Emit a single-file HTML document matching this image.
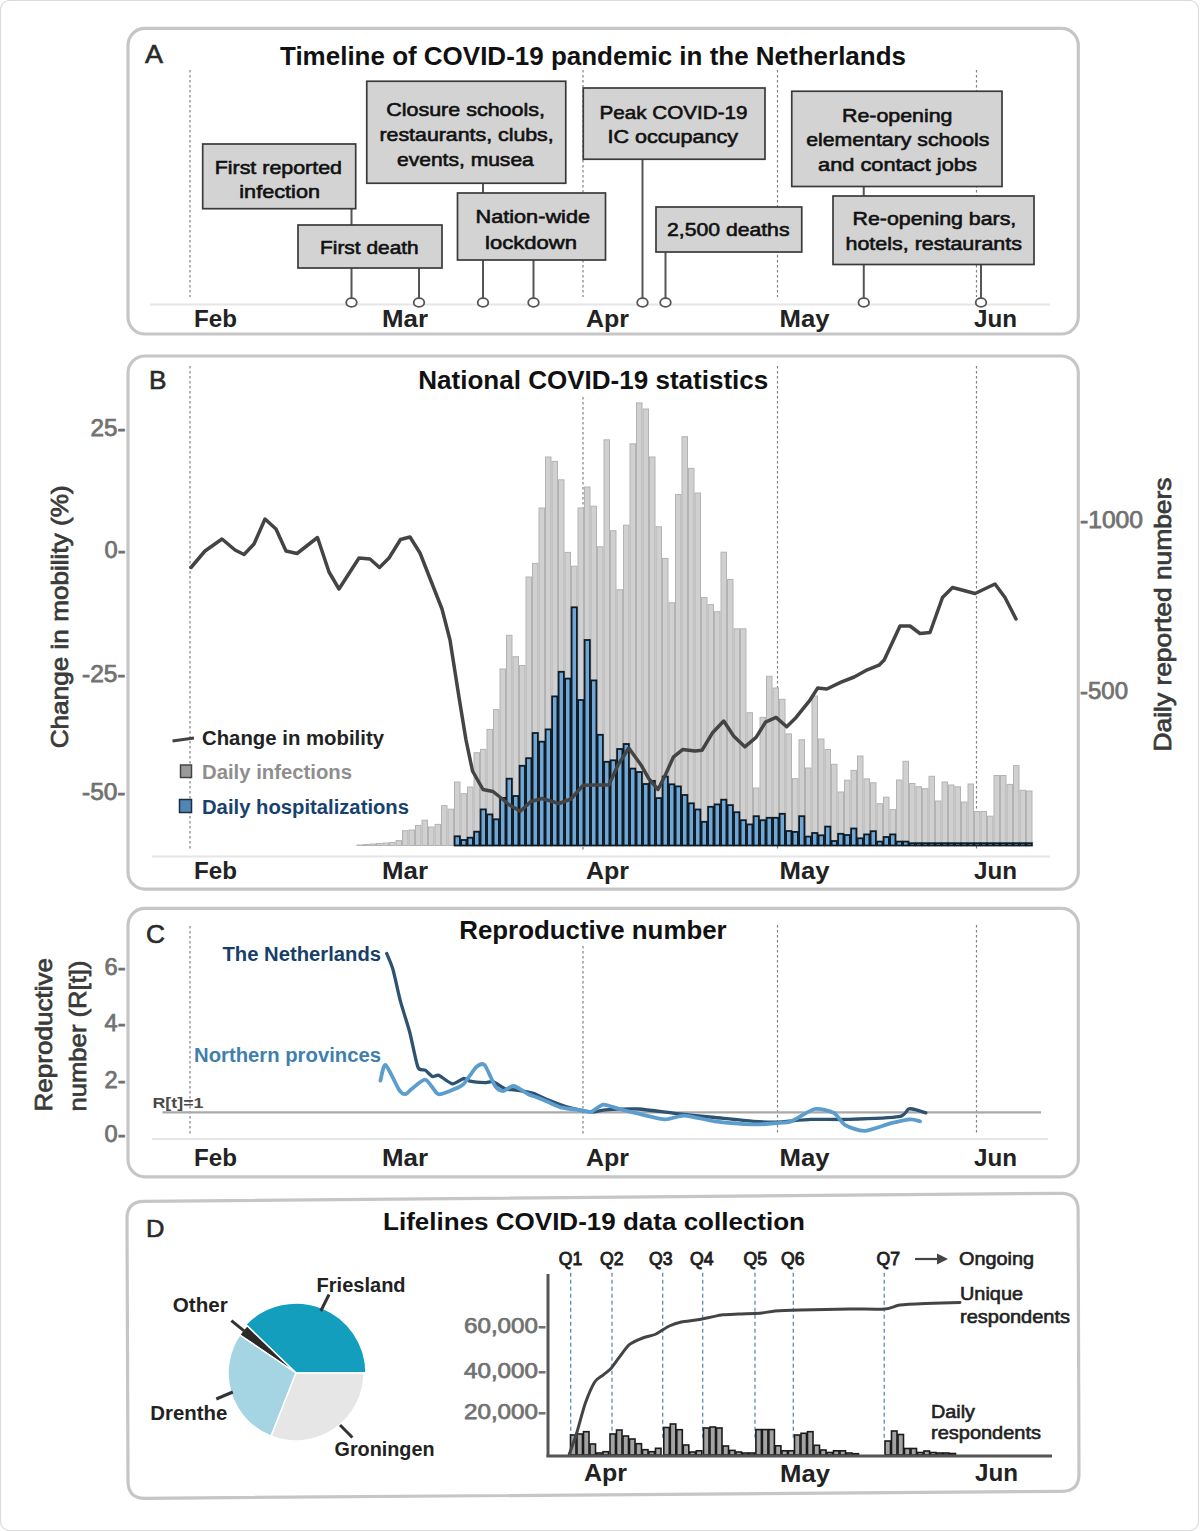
<!DOCTYPE html><html><head><meta charset="utf-8"><style>html,body{margin:0;padding:0;background:#fff;width:1200px;height:1531px;overflow:hidden}</style></head><body><svg width="1200" height="1531" viewBox="0 0 1200 1531" style="display:block;font-family:'Liberation Sans', sans-serif">
<rect x="0" y="0" width="1200" height="1531" fill="#fff"/>
<rect x="0.5" y="0.5" width="1198" height="1530" rx="9" ry="9" fill="none" stroke="#dcdcdc" stroke-width="1.2"/>
<rect x="128" y="28.3" width="950.3" height="305.7" rx="17" ry="17" fill="none" stroke="#c6c6c6" stroke-width="3.2"/>
<text x="145.0" y="63.0" font-size="25.5" font-weight="normal" fill="#2a2a2a" text-anchor="start" textLength="18.0" lengthAdjust="spacingAndGlyphs"  stroke="#2a2a2a" stroke-width="0.6">A</text>
<text x="280.0" y="64.5" font-size="25.5" font-weight="bold" fill="#111" text-anchor="start" textLength="626.0" lengthAdjust="spacingAndGlyphs" >Timeline of COVID-19 pandemic in the Netherlands</text>
<line x1="150" y1="304.5" x2="1050" y2="304.5" stroke="#e6e6e6" stroke-width="1.8" />
<line x1="190" y1="70" x2="190" y2="297" stroke="#808080" stroke-width="1.2" stroke-dasharray="2.5,2.5"/>
<line x1="583" y1="70" x2="583" y2="297" stroke="#808080" stroke-width="1.2" stroke-dasharray="2.5,2.5"/>
<line x1="777.5" y1="70" x2="777.5" y2="297" stroke="#808080" stroke-width="1.2" stroke-dasharray="2.5,2.5"/>
<line x1="976.5" y1="70" x2="976.5" y2="297" stroke="#808080" stroke-width="1.2" stroke-dasharray="2.5,2.5"/>
<line x1="351.5" y1="208" x2="351.5" y2="298" stroke="#555" stroke-width="2" />
<line x1="419" y1="268" x2="419" y2="298" stroke="#555" stroke-width="2" />
<line x1="483" y1="183" x2="483" y2="298" stroke="#555" stroke-width="2" />
<line x1="533.5" y1="260" x2="533.5" y2="298" stroke="#555" stroke-width="2" />
<line x1="642.5" y1="159" x2="642.5" y2="298" stroke="#555" stroke-width="2" />
<line x1="665.5" y1="252" x2="665.5" y2="298" stroke="#555" stroke-width="2" />
<line x1="863.75" y1="186" x2="863.75" y2="298" stroke="#555" stroke-width="2" />
<line x1="981" y1="264.5" x2="981" y2="298" stroke="#555" stroke-width="2" />
<rect x="202.7" y="144" width="153.0" height="64.69999999999999" fill="#d3d3d3" stroke="#3a3a3a" stroke-width="1.7"/>
<rect x="298" y="225" width="144" height="43" fill="#d3d3d3" stroke="#3a3a3a" stroke-width="1.7"/>
<rect x="366.75" y="81.25" width="199.0" height="102.0" fill="#d3d3d3" stroke="#3a3a3a" stroke-width="1.7"/>
<rect x="457.5" y="193" width="148.0" height="67" fill="#d3d3d3" stroke="#3a3a3a" stroke-width="1.7"/>
<rect x="583.25" y="88" width="181.75" height="71.25" fill="#d3d3d3" stroke="#3a3a3a" stroke-width="1.7"/>
<rect x="656" y="207" width="145.75" height="45" fill="#d3d3d3" stroke="#3a3a3a" stroke-width="1.7"/>
<rect x="791.75" y="91.25" width="210.25" height="95.25" fill="#d3d3d3" stroke="#3a3a3a" stroke-width="1.7"/>
<rect x="833" y="196" width="201" height="68.5" fill="#d3d3d3" stroke="#3a3a3a" stroke-width="1.7"/>
<ellipse cx="351.5" cy="302.5" rx="5.3" ry="4.3" fill="#fff" stroke="#555" stroke-width="1.8"/>
<ellipse cx="419" cy="302.5" rx="5.3" ry="4.3" fill="#fff" stroke="#555" stroke-width="1.8"/>
<ellipse cx="483" cy="302.5" rx="5.3" ry="4.3" fill="#fff" stroke="#555" stroke-width="1.8"/>
<ellipse cx="533.5" cy="302.5" rx="5.3" ry="4.3" fill="#fff" stroke="#555" stroke-width="1.8"/>
<ellipse cx="642.5" cy="302.5" rx="5.3" ry="4.3" fill="#fff" stroke="#555" stroke-width="1.8"/>
<ellipse cx="665.5" cy="302.5" rx="5.3" ry="4.3" fill="#fff" stroke="#555" stroke-width="1.8"/>
<ellipse cx="863.75" cy="302.5" rx="5.3" ry="4.3" fill="#fff" stroke="#555" stroke-width="1.8"/>
<ellipse cx="981" cy="302.5" rx="5.3" ry="4.3" fill="#fff" stroke="#555" stroke-width="1.8"/>
<text x="214.7" y="174.4" font-size="19" font-weight="normal" fill="#111" text-anchor="start" textLength="127.3" lengthAdjust="spacingAndGlyphs"  stroke="#111" stroke-width="0.6">First reported</text>
<text x="239.3" y="198.0" font-size="19" font-weight="normal" fill="#111" text-anchor="start" textLength="80.7" lengthAdjust="spacingAndGlyphs"  stroke="#111" stroke-width="0.6">infection</text>
<text x="320.0" y="254.0" font-size="19" font-weight="normal" fill="#111" text-anchor="start" textLength="98.7" lengthAdjust="spacingAndGlyphs"  stroke="#111" stroke-width="0.6">First death</text>
<text x="386.2" y="115.8" font-size="19" font-weight="normal" fill="#111" text-anchor="start" textLength="158.8" lengthAdjust="spacingAndGlyphs"  stroke="#111" stroke-width="0.6">Closure schools,</text>
<text x="379.5" y="140.8" font-size="19" font-weight="normal" fill="#111" text-anchor="start" textLength="174.2" lengthAdjust="spacingAndGlyphs"  stroke="#111" stroke-width="0.6">restaurants, clubs,</text>
<text x="397.0" y="166.0" font-size="19" font-weight="normal" fill="#111" text-anchor="start" textLength="136.8" lengthAdjust="spacingAndGlyphs"  stroke="#111" stroke-width="0.6">events, musea</text>
<text x="475.5" y="223.0" font-size="19" font-weight="normal" fill="#111" text-anchor="start" textLength="114.5" lengthAdjust="spacingAndGlyphs"  stroke="#111" stroke-width="0.6">Nation-wide</text>
<text x="485.0" y="249.0" font-size="19" font-weight="normal" fill="#111" text-anchor="start" textLength="92.0" lengthAdjust="spacingAndGlyphs"  stroke="#111" stroke-width="0.6">lockdown</text>
<text x="599.5" y="118.8" font-size="19" font-weight="normal" fill="#111" text-anchor="start" textLength="148.0" lengthAdjust="spacingAndGlyphs"  stroke="#111" stroke-width="0.6">Peak COVID-19</text>
<text x="607.5" y="142.5" font-size="19" font-weight="normal" fill="#111" text-anchor="start" textLength="130.5" lengthAdjust="spacingAndGlyphs"  stroke="#111" stroke-width="0.6">IC occupancy</text>
<text x="667.0" y="236.0" font-size="19" font-weight="normal" fill="#111" text-anchor="start" textLength="122.5" lengthAdjust="spacingAndGlyphs"  stroke="#111" stroke-width="0.6">2,500 deaths</text>
<text x="842.0" y="121.8" font-size="19" font-weight="normal" fill="#111" text-anchor="start" textLength="110.5" lengthAdjust="spacingAndGlyphs"  stroke="#111" stroke-width="0.6">Re-opening</text>
<text x="806.2" y="146.0" font-size="19" font-weight="normal" fill="#111" text-anchor="start" textLength="183.2" lengthAdjust="spacingAndGlyphs"  stroke="#111" stroke-width="0.6">elementary schools</text>
<text x="818.0" y="170.8" font-size="19" font-weight="normal" fill="#111" text-anchor="start" textLength="158.8" lengthAdjust="spacingAndGlyphs"  stroke="#111" stroke-width="0.6">and contact jobs</text>
<text x="852.5" y="224.5" font-size="19" font-weight="normal" fill="#111" text-anchor="start" textLength="163.8" lengthAdjust="spacingAndGlyphs"  stroke="#111" stroke-width="0.6">Re-opening bars,</text>
<text x="845.5" y="250.0" font-size="19" font-weight="normal" fill="#111" text-anchor="start" textLength="176.5" lengthAdjust="spacingAndGlyphs"  stroke="#111" stroke-width="0.6">hotels, restaurants</text>
<text x="194.0" y="327.0" font-size="23.5" font-weight="bold" fill="#222" text-anchor="start" textLength="43.0" lengthAdjust="spacingAndGlyphs" >Feb</text>
<text x="382.0" y="327.0" font-size="23.5" font-weight="bold" fill="#222" text-anchor="start" textLength="46.0" lengthAdjust="spacingAndGlyphs" >Mar</text>
<text x="586.0" y="327.0" font-size="23.5" font-weight="bold" fill="#222" text-anchor="start" textLength="43.0" lengthAdjust="spacingAndGlyphs" >Apr</text>
<text x="779.5" y="327.0" font-size="23.5" font-weight="bold" fill="#222" text-anchor="start" textLength="50.0" lengthAdjust="spacingAndGlyphs" >May</text>
<text x="974.0" y="327.0" font-size="23.5" font-weight="bold" fill="#222" text-anchor="start" textLength="43.0" lengthAdjust="spacingAndGlyphs" >Jun</text>
<rect x="128" y="356" width="950.3" height="533.2" rx="17" ry="17" fill="none" stroke="#c6c6c6" stroke-width="3.2"/>
<text x="149.0" y="389.3" font-size="25.5" font-weight="normal" fill="#2a2a2a" text-anchor="start" textLength="17.5" lengthAdjust="spacingAndGlyphs"  stroke="#2a2a2a" stroke-width="0.6">B</text>
<text x="418.3" y="389.3" font-size="25.5" font-weight="bold" fill="#111" text-anchor="start" textLength="350.0" lengthAdjust="spacingAndGlyphs" >National COVID-19 statistics</text>
<line x1="152" y1="856.5" x2="1050" y2="856.5" stroke="#e6e6e6" stroke-width="1.8" />
<line x1="190" y1="366" x2="190" y2="851" stroke="#808080" stroke-width="1.2" stroke-dasharray="2.5,2.5"/>
<line x1="583" y1="397" x2="583" y2="851" stroke="#808080" stroke-width="1.2" stroke-dasharray="2.5,2.5"/>
<line x1="777.5" y1="366" x2="777.5" y2="851" stroke="#808080" stroke-width="1.2" stroke-dasharray="2.5,2.5"/>
<line x1="976.5" y1="366" x2="976.5" y2="851" stroke="#808080" stroke-width="1.2" stroke-dasharray="2.5,2.5"/>
<g fill="#d0d0d0" stroke="#b3b3b3" stroke-width="1"><rect x="357.0" y="845.0" width="5.5" height="0.5"/><rect x="363.5" y="844.5" width="5.5" height="1.0"/><rect x="370.0" y="844.0" width="5.5" height="1.5"/><rect x="376.5" y="843.5" width="5.5" height="2.0"/><rect x="383.0" y="843.0" width="5.5" height="2.5"/><rect x="389.5" y="842.5" width="5.5" height="3.0"/><rect x="396.0" y="840.6" width="5.5" height="4.9"/><rect x="402.5" y="830.7" width="5.5" height="14.8"/><rect x="409.0" y="830.0" width="5.5" height="15.5"/><rect x="415.5" y="825.4" width="5.5" height="20.1"/><rect x="422.0" y="820.2" width="5.5" height="25.3"/><rect x="428.5" y="827.0" width="5.5" height="18.5"/><rect x="435.0" y="824.4" width="5.5" height="21.1"/><rect x="441.5" y="805.6" width="5.5" height="39.9"/><rect x="448.0" y="809.2" width="5.5" height="36.3"/><rect x="454.5" y="782.0" width="5.5" height="63.5"/><rect x="461.0" y="793.7" width="5.5" height="51.8"/><rect x="467.5" y="787.0" width="5.5" height="58.5"/><rect x="474.0" y="752.7" width="5.5" height="92.8"/><rect x="480.5" y="749.4" width="5.5" height="96.1"/><rect x="487.0" y="729.4" width="5.5" height="116.1"/><rect x="493.5" y="709.6" width="5.5" height="135.9"/><rect x="500.0" y="669.0" width="5.5" height="176.5"/><rect x="506.5" y="635.3" width="5.5" height="210.2"/><rect x="513.0" y="656.7" width="5.5" height="188.8"/><rect x="519.5" y="665.5" width="5.5" height="180.0"/><rect x="526.0" y="577.0" width="5.5" height="268.5"/><rect x="532.5" y="563.4" width="5.5" height="282.1"/><rect x="539.0" y="508.0" width="5.5" height="337.5"/><rect x="545.5" y="457.0" width="5.5" height="388.5"/><rect x="552.0" y="461.4" width="5.5" height="384.1"/><rect x="558.5" y="479.8" width="5.5" height="365.7"/><rect x="565.0" y="552.4" width="5.5" height="293.1"/><rect x="571.5" y="566.2" width="5.5" height="279.3"/><rect x="578.0" y="508.0" width="5.5" height="337.5"/><rect x="584.5" y="487.0" width="5.5" height="358.5"/><rect x="591.0" y="506.2" width="5.5" height="339.3"/><rect x="597.5" y="546.7" width="5.5" height="298.8"/><rect x="604.0" y="439.8" width="5.5" height="405.7"/><rect x="610.5" y="530.7" width="5.5" height="314.8"/><rect x="617.0" y="589.7" width="5.5" height="255.8"/><rect x="623.5" y="525.2" width="5.5" height="320.3"/><rect x="630.0" y="443.8" width="5.5" height="401.7"/><rect x="636.5" y="402.9" width="5.5" height="442.6"/><rect x="643.0" y="409.0" width="5.5" height="436.5"/><rect x="649.5" y="457.0" width="5.5" height="388.5"/><rect x="656.0" y="526.8" width="5.5" height="318.7"/><rect x="662.5" y="558.4" width="5.5" height="287.1"/><rect x="669.0" y="602.7" width="5.5" height="242.8"/><rect x="675.5" y="494.5" width="5.5" height="351.0"/><rect x="682.0" y="436.7" width="5.5" height="408.8"/><rect x="688.5" y="468.4" width="5.5" height="377.1"/><rect x="695.0" y="493.0" width="5.5" height="352.5"/><rect x="701.5" y="597.5" width="5.5" height="248.0"/><rect x="708.0" y="604.6" width="5.5" height="240.9"/><rect x="714.5" y="611.7" width="5.5" height="233.8"/><rect x="721.0" y="552.2" width="5.5" height="293.3"/><rect x="727.5" y="579.5" width="5.5" height="266.0"/><rect x="734.0" y="628.8" width="5.5" height="216.7"/><rect x="740.5" y="628.8" width="5.5" height="216.7"/><rect x="747.0" y="712.7" width="5.5" height="132.8"/><rect x="753.5" y="788.0" width="5.5" height="57.5"/><rect x="760.0" y="717.4" width="5.5" height="128.1"/><rect x="766.5" y="676.3" width="5.5" height="169.2"/><rect x="773.0" y="688.0" width="5.5" height="157.5"/><rect x="779.5" y="699.3" width="5.5" height="146.2"/><rect x="786.0" y="733.9" width="5.5" height="111.6"/><rect x="792.5" y="778.6" width="5.5" height="66.9"/><rect x="799.0" y="739.8" width="5.5" height="105.7"/><rect x="805.5" y="768.0" width="5.5" height="77.5"/><rect x="812.0" y="696.0" width="5.5" height="149.5"/><rect x="818.5" y="739.0" width="5.5" height="106.5"/><rect x="825.0" y="749.5" width="5.5" height="96.0"/><rect x="831.5" y="764.3" width="5.5" height="81.2"/><rect x="838.0" y="792.0" width="5.5" height="53.5"/><rect x="844.5" y="780.2" width="5.5" height="65.3"/><rect x="851.0" y="770.4" width="5.5" height="75.1"/><rect x="857.5" y="756.0" width="5.5" height="89.5"/><rect x="864.0" y="778.9" width="5.5" height="66.6"/><rect x="870.5" y="782.8" width="5.5" height="62.7"/><rect x="877.0" y="803.7" width="5.5" height="41.8"/><rect x="883.5" y="797.2" width="5.5" height="48.3"/><rect x="890.0" y="809.6" width="5.5" height="35.9"/><rect x="896.5" y="780.0" width="5.5" height="65.5"/><rect x="903.0" y="761.3" width="5.5" height="84.2"/><rect x="909.5" y="783.5" width="5.5" height="62.0"/><rect x="916.0" y="786.7" width="5.5" height="58.8"/><rect x="922.5" y="788.7" width="5.5" height="56.8"/><rect x="929.0" y="776.3" width="5.5" height="69.2"/><rect x="935.5" y="801.0" width="5.5" height="44.5"/><rect x="942.0" y="782.0" width="5.5" height="63.5"/><rect x="948.5" y="785.0" width="5.5" height="60.5"/><rect x="955.0" y="786.8" width="5.5" height="58.7"/><rect x="961.5" y="802.0" width="5.5" height="43.5"/><rect x="968.0" y="784.0" width="5.5" height="61.5"/><rect x="974.5" y="811.5" width="5.5" height="34.0"/><rect x="981.0" y="811.5" width="5.5" height="34.0"/><rect x="987.5" y="816.2" width="5.5" height="29.3"/><rect x="994.0" y="775.5" width="5.5" height="70.0"/><rect x="1000.5" y="775.5" width="5.5" height="70.0"/><rect x="1007.0" y="784.4" width="5.5" height="61.1"/><rect x="1013.5" y="765.6" width="5.5" height="79.9"/><rect x="1020.0" y="790.3" width="5.5" height="55.2"/><rect x="1026.5" y="791.0" width="5.5" height="54.5"/></g>
<g fill="#72a6d2" stroke="#0e1c28" stroke-width="1.8"><rect x="454.6" y="836.3" width="5.3" height="9.2"/><rect x="461.1" y="840.0" width="5.3" height="5.5"/><rect x="467.6" y="837.7" width="5.3" height="7.8"/><rect x="474.1" y="831.7" width="5.3" height="13.8"/><rect x="480.6" y="809.4" width="5.3" height="36.1"/><rect x="487.1" y="814.4" width="5.3" height="31.1"/><rect x="493.6" y="819.3" width="5.3" height="26.2"/><rect x="500.1" y="797.9" width="5.3" height="47.6"/><rect x="506.6" y="778.7" width="5.3" height="66.8"/><rect x="513.1" y="796.0" width="5.3" height="49.5"/><rect x="519.6" y="765.8" width="5.3" height="79.7"/><rect x="526.1" y="758.2" width="5.3" height="87.3"/><rect x="532.6" y="733.0" width="5.3" height="112.5"/><rect x="539.1" y="741.7" width="5.3" height="103.8"/><rect x="545.6" y="729.4" width="5.3" height="116.1"/><rect x="552.1" y="696.4" width="5.3" height="149.1"/><rect x="558.6" y="671.8" width="5.3" height="173.7"/><rect x="565.1" y="678.6" width="5.3" height="166.9"/><rect x="571.6" y="607.3" width="5.3" height="238.2"/><rect x="578.1" y="700.0" width="5.3" height="145.5"/><rect x="584.6" y="640.0" width="5.3" height="205.5"/><rect x="591.1" y="680.4" width="5.3" height="165.1"/><rect x="597.6" y="734.8" width="5.3" height="110.7"/><rect x="604.1" y="761.8" width="5.3" height="83.7"/><rect x="610.6" y="760.3" width="5.3" height="85.2"/><rect x="617.1" y="749.0" width="5.3" height="96.5"/><rect x="623.6" y="744.0" width="5.3" height="101.5"/><rect x="630.1" y="768.6" width="5.3" height="76.9"/><rect x="636.6" y="772.0" width="5.3" height="73.5"/><rect x="643.1" y="784.0" width="5.3" height="61.5"/><rect x="649.6" y="780.9" width="5.3" height="64.6"/><rect x="656.1" y="798.1" width="5.3" height="47.4"/><rect x="662.6" y="776.6" width="5.3" height="68.9"/><rect x="669.1" y="784.3" width="5.3" height="61.2"/><rect x="675.6" y="786.4" width="5.3" height="59.1"/><rect x="682.1" y="795.0" width="5.3" height="50.5"/><rect x="688.6" y="803.3" width="5.3" height="42.2"/><rect x="695.1" y="809.5" width="5.3" height="36.0"/><rect x="701.6" y="821.8" width="5.3" height="23.7"/><rect x="708.1" y="806.8" width="5.3" height="38.7"/><rect x="714.6" y="804.4" width="5.3" height="41.1"/><rect x="721.1" y="799.7" width="5.3" height="45.8"/><rect x="727.6" y="805.1" width="5.3" height="40.4"/><rect x="734.1" y="812.2" width="5.3" height="33.3"/><rect x="740.6" y="820.2" width="5.3" height="25.3"/><rect x="747.1" y="824.4" width="5.3" height="21.1"/><rect x="753.6" y="816.2" width="5.3" height="29.3"/><rect x="760.1" y="820.2" width="5.3" height="25.3"/><rect x="766.6" y="817.8" width="5.3" height="27.7"/><rect x="773.1" y="817.8" width="5.3" height="27.7"/><rect x="779.6" y="813.8" width="5.3" height="31.7"/><rect x="786.1" y="831.0" width="5.3" height="14.5"/><rect x="792.6" y="831.9" width="5.3" height="13.6"/><rect x="799.1" y="816.2" width="5.3" height="29.3"/><rect x="805.6" y="836.6" width="5.3" height="8.9"/><rect x="812.1" y="833.0" width="5.3" height="12.5"/><rect x="818.6" y="835.3" width="5.3" height="10.2"/><rect x="825.1" y="826.6" width="5.3" height="18.9"/><rect x="831.6" y="841.0" width="5.3" height="4.5"/><rect x="838.1" y="833.8" width="5.3" height="11.7"/><rect x="844.6" y="835.0" width="5.3" height="10.5"/><rect x="851.1" y="828.5" width="5.3" height="17.0"/><rect x="857.6" y="838.3" width="5.3" height="7.2"/><rect x="864.1" y="834.4" width="5.3" height="11.1"/><rect x="870.6" y="831.2" width="5.3" height="14.3"/><rect x="877.1" y="841.6" width="5.3" height="3.9"/><rect x="883.6" y="837.0" width="5.3" height="8.5"/><rect x="890.1" y="834.4" width="5.3" height="11.1"/><rect x="896.6" y="841.6" width="5.3" height="3.9"/><rect x="903.1" y="841.6" width="5.3" height="3.9"/><rect x="909.6" y="843.2" width="5.3" height="2.3"/><rect x="916.1" y="843.2" width="5.3" height="2.3"/><rect x="922.6" y="843.2" width="5.3" height="2.3"/><rect x="929.1" y="843.2" width="5.3" height="2.3"/><rect x="935.6" y="843.2" width="5.3" height="2.3"/><rect x="942.1" y="843.2" width="5.3" height="2.3"/><rect x="948.6" y="843.2" width="5.3" height="2.3"/><rect x="955.1" y="843.2" width="5.3" height="2.3"/><rect x="961.6" y="843.2" width="5.3" height="2.3"/><rect x="968.1" y="843.2" width="5.3" height="2.3"/><rect x="974.6" y="843.2" width="5.3" height="2.3"/><rect x="981.1" y="843.2" width="5.3" height="2.3"/><rect x="987.6" y="843.2" width="5.3" height="2.3"/><rect x="994.1" y="843.2" width="5.3" height="2.3"/><rect x="1000.6" y="843.2" width="5.3" height="2.3"/><rect x="1007.1" y="843.2" width="5.3" height="2.3"/><rect x="1013.6" y="843.2" width="5.3" height="2.3"/><rect x="1020.1" y="843.2" width="5.3" height="2.3"/><rect x="1026.6" y="843.2" width="5.3" height="2.3"/></g>
<polyline points="191.0,567.5 205.0,551.0 222.0,539.0 235.0,550.0 244.0,554.5 254.0,544.0 265.0,519.0 276.0,529.0 286.0,551.0 297.0,553.5 317.5,537.5 329.0,572.0 339.0,589.0 359.0,558.0 370.0,559.0 379.5,567.5 389.0,558.0 400.5,539.5 410.0,537.0 420.0,553.0 431.0,581.0 442.0,609.0 450.0,640.0 458.8,696.0 466.0,740.0 472.5,771.0 483.0,789.5 493.0,791.5 500.5,797.5 509.5,805.0 520.3,811.3 531.0,801.5 542.0,798.5 559.0,803.5 571.0,799.0 583.3,785.2 595.0,784.9 608.8,784.9 618.0,764.9 628.8,748.0 641.0,764.9 648.8,778.7 658.0,789.5 665.7,774.2 673.3,757.2 682.6,749.6 694.9,751.1 702.0,750.3 712.6,732.7 723.7,721.0 733.8,736.2 744.8,746.8 756.1,737.4 765.5,722.1 776.1,717.4 786.7,726.8 796.1,717.4 810.2,699.8 817.6,688.1 826.8,689.0 841.1,682.2 854.2,677.0 867.3,669.8 879.0,665.2 884.2,660.0 900.0,626.0 910.0,626.0 920.0,633.5 930.0,632.5 942.5,597.5 952.5,587.5 975.0,593.5 995.0,584.0 1005.0,597.5 1016.0,619.0" fill="none" stroke="#444" stroke-width="3.5" stroke-linejoin="round" stroke-linecap="round" />
<text x="90.5" y="435.5" font-size="23" font-weight="normal" fill="#717171" text-anchor="start" textLength="35.0" lengthAdjust="spacingAndGlyphs" stroke="#717171" stroke-width="0.75">25-</text>
<text x="104.5" y="557.5" font-size="23" font-weight="normal" fill="#717171" text-anchor="start" textLength="21.0" lengthAdjust="spacingAndGlyphs" stroke="#717171" stroke-width="0.75">0-</text>
<text x="82.0" y="682.0" font-size="23" font-weight="normal" fill="#717171" text-anchor="start" textLength="43.5" lengthAdjust="spacingAndGlyphs" stroke="#717171" stroke-width="0.75">-25-</text>
<text x="82.0" y="799.5" font-size="23" font-weight="normal" fill="#717171" text-anchor="start" textLength="43.5" lengthAdjust="spacingAndGlyphs" stroke="#717171" stroke-width="0.75">-50-</text>
<text x="68.2" y="748.3" font-size="24" font-weight="normal" fill="#3a3a3a" text-anchor="start" transform="rotate(-90 68.2 748.3)" stroke="#3a3a3a" stroke-width="0.75" textLength="263.0" lengthAdjust="spacingAndGlyphs">Change in mobility (%)</text>
<text x="1080.0" y="527.5" font-size="23" font-weight="normal" fill="#717171" text-anchor="start" textLength="63.0" lengthAdjust="spacingAndGlyphs" stroke="#717171" stroke-width="0.75">-1000</text>
<text x="1080.0" y="698.5" font-size="23" font-weight="normal" fill="#717171" text-anchor="start" textLength="48.0" lengthAdjust="spacingAndGlyphs" stroke="#717171" stroke-width="0.75">-500</text>
<text x="1170.5" y="751.5" font-size="24" font-weight="normal" fill="#3a3a3a" text-anchor="start" transform="rotate(-90 1170.5 751.5)" stroke="#3a3a3a" stroke-width="0.75" textLength="274.0" lengthAdjust="spacingAndGlyphs">Daily reported numbers</text>
<line x1="172.5" y1="741" x2="194" y2="738" stroke="#444" stroke-width="3" />
<text x="202.0" y="745.0" font-size="19.5" font-weight="bold" fill="#222" text-anchor="start" textLength="182.0" lengthAdjust="spacingAndGlyphs" >Change in mobility</text>
<rect x="180.5" y="765" width="11" height="12.5" fill="#9a9a9a" stroke="#444" stroke-width="1.5"/>
<text x="202.0" y="779.0" font-size="19.5" font-weight="bold" fill="#8e8e8e" text-anchor="start" textLength="150.0" lengthAdjust="spacingAndGlyphs" >Daily infections</text>
<rect x="179.5" y="799.5" width="12" height="13" fill="#4f86b6" stroke="#1d2e3e" stroke-width="1.5"/>
<text x="202.0" y="814.0" font-size="19.5" font-weight="bold" fill="#17416e" text-anchor="start" textLength="207.0" lengthAdjust="spacingAndGlyphs" >Daily hospitalizations</text>
<text x="194.0" y="879.0" font-size="23.5" font-weight="bold" fill="#222" text-anchor="start" textLength="43.0" lengthAdjust="spacingAndGlyphs" >Feb</text>
<text x="382.0" y="879.0" font-size="23.5" font-weight="bold" fill="#222" text-anchor="start" textLength="46.0" lengthAdjust="spacingAndGlyphs" >Mar</text>
<text x="586.0" y="879.0" font-size="23.5" font-weight="bold" fill="#222" text-anchor="start" textLength="43.0" lengthAdjust="spacingAndGlyphs" >Apr</text>
<text x="779.5" y="879.0" font-size="23.5" font-weight="bold" fill="#222" text-anchor="start" textLength="50.0" lengthAdjust="spacingAndGlyphs" >May</text>
<text x="974.0" y="879.0" font-size="23.5" font-weight="bold" fill="#222" text-anchor="start" textLength="43.0" lengthAdjust="spacingAndGlyphs" >Jun</text>
<rect x="128" y="908.3" width="950.3" height="268.5" rx="17" ry="17" fill="none" stroke="#c6c6c6" stroke-width="3.2"/>
<text x="146.0" y="942.5" font-size="25" font-weight="normal" fill="#2a2a2a" text-anchor="start" textLength="19.0" lengthAdjust="spacingAndGlyphs"  stroke="#2a2a2a" stroke-width="0.6">C</text>
<text x="459.2" y="939.3" font-size="25" font-weight="bold" fill="#111" text-anchor="start" textLength="267.5" lengthAdjust="spacingAndGlyphs" >Reproductive number</text>
<line x1="152" y1="1139" x2="1048" y2="1139" stroke="#e6e6e6" stroke-width="1.8" />
<line x1="190" y1="926" x2="190" y2="1134" stroke="#808080" stroke-width="1.2" stroke-dasharray="2.5,2.5"/>
<line x1="583" y1="946" x2="583" y2="1134" stroke="#808080" stroke-width="1.2" stroke-dasharray="2.5,2.5"/>
<line x1="777.5" y1="925" x2="777.5" y2="1134" stroke="#808080" stroke-width="1.2" stroke-dasharray="2.5,2.5"/>
<line x1="976.5" y1="925" x2="976.5" y2="1134" stroke="#808080" stroke-width="1.2" stroke-dasharray="2.5,2.5"/>
<line x1="162.5" y1="1112.3" x2="1041" y2="1112.3" stroke="#a8a8a8" stroke-width="2.2" />
<text x="152.5" y="1107.8" font-size="14.5" font-weight="bold" fill="#4a4a4a" text-anchor="start" textLength="51.0" lengthAdjust="spacingAndGlyphs" >R[t]=1</text>
<text x="104.5" y="975.0" font-size="23" font-weight="normal" fill="#717171" text-anchor="start" textLength="21.0" lengthAdjust="spacingAndGlyphs" stroke="#717171" stroke-width="0.75">6-</text>
<text x="104.5" y="1031.0" font-size="23" font-weight="normal" fill="#717171" text-anchor="start" textLength="21.0" lengthAdjust="spacingAndGlyphs" stroke="#717171" stroke-width="0.75">4-</text>
<text x="104.5" y="1088.0" font-size="23" font-weight="normal" fill="#717171" text-anchor="start" textLength="21.0" lengthAdjust="spacingAndGlyphs" stroke="#717171" stroke-width="0.75">2-</text>
<text x="104.5" y="1142.0" font-size="23" font-weight="normal" fill="#717171" text-anchor="start" textLength="21.0" lengthAdjust="spacingAndGlyphs" stroke="#717171" stroke-width="0.75">0-</text>
<text x="52.3" y="1111.5" font-size="24.5" font-weight="normal" fill="#3a3a3a" text-anchor="start" transform="rotate(-90 52.3 1111.5)" stroke="#3a3a3a" stroke-width="0.75" textLength="153.5" lengthAdjust="spacingAndGlyphs">Reproductive</text>
<text x="86.3" y="1111.5" font-size="24.5" font-weight="normal" fill="#3a3a3a" text-anchor="start" transform="rotate(-90 86.3 1111.5)" stroke="#3a3a3a" stroke-width="0.75" textLength="151.0" lengthAdjust="spacingAndGlyphs">number (R[t])</text>
<path d="M386.7,953.5 C387.4,955.3 391.3,963.7 392.9,969.2 C394.5,974.7 398.3,993.1 400.2,1000.4 C402.1,1007.7 407.5,1023.9 409.6,1031.7 C411.7,1039.5 416.1,1062.6 417.9,1067.1 C419.7,1071.6 423.5,1069.1 425.2,1070.2 C426.9,1071.3 430.9,1075.9 432.5,1076.5 C434.1,1077.1 436.4,1074.6 438.8,1075.4 C441.1,1076.2 449.4,1083.4 452.3,1083.8 C455.2,1084.1 461.7,1078.8 463.8,1078.5 C465.8,1078.2 467.6,1080.8 470.0,1081.2 C472.4,1081.7 481.9,1082.6 484.6,1082.7 C487.3,1082.8 490.5,1081.0 492.9,1081.7 C495.3,1082.4 502.7,1088.0 505.4,1089.0 C508.1,1090.0 512.6,1089.5 515.8,1090.0 C519.0,1090.5 528.6,1091.8 532.5,1093.0 C536.4,1094.2 545.3,1098.8 549.2,1100.4 C553.1,1102.0 561.8,1105.5 565.8,1106.7 C569.8,1107.9 580.2,1110.2 583.5,1110.8 C586.8,1111.4 591.4,1112.0 594.0,1111.9 C596.6,1111.8 600.2,1110.1 605.4,1109.8 C610.6,1109.5 630.0,1108.5 638.3,1109.0 C646.6,1109.5 667.8,1112.7 676.7,1113.7 C685.6,1114.7 706.1,1116.6 715.0,1117.5 C723.9,1118.4 746.1,1120.8 753.3,1121.3 C760.5,1121.8 769.6,1122.3 776.3,1122.1 C783.0,1121.9 802.3,1119.7 810.8,1119.4 C819.3,1119.1 838.8,1119.7 849.1,1119.4 C859.4,1119.1 892.1,1117.9 899.0,1116.7 C905.9,1115.5 906.5,1109.8 908.5,1109.0 C910.5,1108.2 914.2,1109.3 916.2,1109.8 C918.2,1110.3 924.7,1112.5 925.8,1112.9" fill="none" stroke="#2e5272" stroke-width="3.3" stroke-linecap="round" stroke-linejoin="round"/>
<path d="M380.4,1080.6 C381.0,1078.8 383.4,1063.9 385.6,1065.0 C387.8,1066.1 396.9,1086.6 399.2,1090.0 C401.5,1093.4 403.9,1094.3 405.4,1094.2 C406.9,1094.1 409.4,1090.7 411.7,1089.0 C414.0,1087.3 422.3,1079.1 425.2,1079.6 C428.1,1080.1 434.9,1091.4 436.7,1093.1 C438.5,1094.8 438.9,1094.6 440.8,1094.2 C442.7,1093.8 450.6,1090.8 453.3,1089.6 C456.0,1088.4 461.1,1086.4 463.8,1083.8 C466.4,1081.1 473.8,1069.3 476.2,1067.1 C478.7,1064.9 482.4,1062.8 484.6,1065.0 C486.8,1067.2 492.8,1082.8 495.0,1085.8 C497.2,1088.8 501.1,1091.0 503.3,1091.0 C505.5,1091.0 510.8,1085.4 513.8,1085.8 C516.7,1086.2 525.6,1092.9 528.3,1094.2 C531.0,1095.5 534.5,1096.4 536.7,1097.3 C538.9,1098.2 544.1,1100.3 547.0,1101.5 C549.9,1102.7 558.0,1106.7 561.7,1107.7 C565.4,1108.7 574.9,1109.3 578.3,1109.8 C581.7,1110.3 587.9,1112.5 590.8,1111.9 C593.7,1111.3 600.0,1104.9 603.3,1104.6 C606.6,1104.3 615.1,1107.9 619.2,1109.0 C623.3,1110.1 632.9,1112.5 638.3,1113.7 C643.7,1114.9 659.8,1119.2 665.2,1119.4 C670.6,1119.6 678.5,1115.4 684.3,1115.6 C690.1,1115.8 707.0,1120.3 715.0,1121.3 C723.0,1122.3 746.1,1124.2 753.3,1124.4 C760.5,1124.6 771.8,1123.6 776.3,1123.2 C780.8,1122.8 787.1,1123.0 791.6,1121.3 C796.1,1119.6 809.7,1110.0 814.6,1109.0 C819.5,1108.0 830.2,1111.0 833.8,1112.9 C837.4,1114.8 841.7,1123.1 845.3,1125.2 C848.9,1127.3 859.1,1131.1 864.5,1130.9 C869.9,1130.7 885.9,1124.5 891.3,1123.2 C896.7,1121.9 907.2,1119.6 910.5,1119.4 C913.8,1119.2 918.9,1121.1 920.0,1121.3" fill="none" stroke="#5b9dcd" stroke-width="3.8" stroke-linecap="round" stroke-linejoin="round"/>
<text x="222.5" y="961.0" font-size="19.5" font-weight="bold" fill="#173f68" text-anchor="start" textLength="158.5" lengthAdjust="spacingAndGlyphs" >The Netherlands</text>
<text x="194.0" y="1061.5" font-size="19.5" font-weight="bold" fill="#3f7fae" text-anchor="start" textLength="187.0" lengthAdjust="spacingAndGlyphs" >Northern provinces</text>
<text x="194.0" y="1165.5" font-size="23.5" font-weight="bold" fill="#222" text-anchor="start" textLength="43.0" lengthAdjust="spacingAndGlyphs" >Feb</text>
<text x="382.0" y="1165.5" font-size="23.5" font-weight="bold" fill="#222" text-anchor="start" textLength="46.0" lengthAdjust="spacingAndGlyphs" >Mar</text>
<text x="586.0" y="1165.5" font-size="23.5" font-weight="bold" fill="#222" text-anchor="start" textLength="43.0" lengthAdjust="spacingAndGlyphs" >Apr</text>
<text x="779.5" y="1165.5" font-size="23.5" font-weight="bold" fill="#222" text-anchor="start" textLength="50.0" lengthAdjust="spacingAndGlyphs" >May</text>
<text x="974.0" y="1165.5" font-size="23.5" font-weight="bold" fill="#222" text-anchor="start" textLength="43.0" lengthAdjust="spacingAndGlyphs" >Jun</text>
<path d="M144,1201.4 L1061,1193.3 Q1078,1193.2 1078.1,1210 L1079,1474 Q1079,1491.2 1062,1491.3 L145,1498.3 Q128,1498.4 128,1481 L127,1218.5 Q127,1201.5 144,1201.4 Z" fill="none" stroke="#c6c6c6" stroke-width="3.2"/>
<text x="146.0" y="1237.3" font-size="24.5" font-weight="normal" fill="#2a2a2a" text-anchor="start" textLength="18.5" lengthAdjust="spacingAndGlyphs"  stroke="#2a2a2a" stroke-width="0.6">D</text>
<text x="383.1" y="1230.0" font-size="24.5" font-weight="bold" fill="#111" text-anchor="start" textLength="421.9" lengthAdjust="spacingAndGlyphs" >Lifelines COVID-19 data collection</text>
<path d="M296,1373 L366.00,1373.00 A70,70 0 0 0 245.65,1324.37 Z" fill="#149ebd" stroke="#fff" stroke-width="1.5"/>
<path d="M296,1373 L247.08,1325.76 A68,68 0 0 0 239.63,1334.97 Z" fill="#2a2a2a" stroke="#fff" stroke-width="1.5"/>
<path d="M296,1373 L239.63,1334.97 A68,68 0 0 0 271.08,1436.27 Z" fill="#a5d5e2" stroke="#fff" stroke-width="1.5"/>
<path d="M296,1373 L271.08,1436.27 A68,68 0 0 0 364.00,1373.00 Z" fill="#e6e6e6" stroke="#fff" stroke-width="1.5"/>
<line x1="320.8" y1="1311" x2="329" y2="1294.5" stroke="#333" stroke-width="3" />
<line x1="231.4" y1="1320.6" x2="245" y2="1331.6" stroke="#333" stroke-width="3" />
<line x1="216.3" y1="1399" x2="232.8" y2="1392" stroke="#333" stroke-width="3" />
<line x1="340" y1="1425" x2="352.4" y2="1437.5" stroke="#333" stroke-width="3" />
<text x="316.6" y="1292.3" font-size="19.5" font-weight="bold" fill="#222" text-anchor="start" textLength="89.0" lengthAdjust="spacingAndGlyphs" >Friesland</text>
<text x="172.8" y="1312.4" font-size="19.5" font-weight="bold" fill="#222" text-anchor="start" textLength="55.0" lengthAdjust="spacingAndGlyphs" >Other</text>
<text x="150.3" y="1419.6" font-size="19.5" font-weight="bold" fill="#222" text-anchor="start" textLength="77.0" lengthAdjust="spacingAndGlyphs" >Drenthe</text>
<text x="334.5" y="1456.2" font-size="19.5" font-weight="bold" fill="#222" text-anchor="start" textLength="100.0" lengthAdjust="spacingAndGlyphs" >Groningen</text>
<line x1="570.7" y1="1272.7" x2="570.7" y2="1440" stroke="#5f8db3" stroke-width="1.3" stroke-dasharray="4,3"/>
<line x1="612" y1="1272.7" x2="612" y2="1440" stroke="#5f8db3" stroke-width="1.3" stroke-dasharray="4,3"/>
<line x1="662.7" y1="1272.7" x2="662.7" y2="1440" stroke="#5f8db3" stroke-width="1.3" stroke-dasharray="4,3"/>
<line x1="702.7" y1="1272.7" x2="702.7" y2="1440" stroke="#5f8db3" stroke-width="1.3" stroke-dasharray="4,3"/>
<line x1="755" y1="1272.7" x2="755" y2="1440" stroke="#5f8db3" stroke-width="1.3" stroke-dasharray="4,3"/>
<line x1="793.3" y1="1272.7" x2="793.3" y2="1440" stroke="#5f8db3" stroke-width="1.3" stroke-dasharray="4,3"/>
<line x1="884.2" y1="1272.7" x2="884.2" y2="1440" stroke="#5f8db3" stroke-width="1.3" stroke-dasharray="4,3"/>
<g fill="#a3a3a3" stroke="#1b1b1b" stroke-width="1.6"><rect x="570.5" y="1435.0" width="5.5" height="20.0"/><rect x="577.0" y="1434.0" width="5.5" height="21.0"/><rect x="583.5" y="1431.7" width="5.5" height="23.3"/><rect x="590.0" y="1444.0" width="5.5" height="11.0"/><rect x="596.5" y="1453.0" width="5.5" height="2.0"/><rect x="603.0" y="1451.7" width="5.5" height="3.3"/><rect x="610.0" y="1434.0" width="5.5" height="21.0"/><rect x="616.5" y="1430.0" width="5.5" height="25.0"/><rect x="623.0" y="1436.0" width="5.5" height="19.0"/><rect x="629.5" y="1439.0" width="5.5" height="16.0"/><rect x="636.0" y="1443.7" width="5.5" height="11.3"/><rect x="642.5" y="1449.7" width="5.5" height="5.3"/><rect x="649.0" y="1451.7" width="5.5" height="3.3"/><rect x="655.5" y="1448.3" width="5.5" height="6.7"/><rect x="663.8" y="1427.5" width="5.5" height="27.5"/><rect x="670.3" y="1424.0" width="5.5" height="31.0"/><rect x="676.8" y="1429.7" width="5.5" height="25.3"/><rect x="683.3" y="1445.0" width="5.5" height="10.0"/><rect x="689.8" y="1452.0" width="5.5" height="3.0"/><rect x="696.3" y="1450.8" width="5.5" height="4.2"/><rect x="703.5" y="1428.0" width="5.5" height="27.0"/><rect x="710.0" y="1427.0" width="5.5" height="28.0"/><rect x="716.5" y="1428.0" width="5.5" height="27.0"/><rect x="723.0" y="1446.0" width="5.5" height="9.0"/><rect x="729.5" y="1450.4" width="5.5" height="4.6"/><rect x="736.0" y="1452.0" width="5.5" height="3.0"/><rect x="742.5" y="1453.0" width="5.5" height="2.0"/><rect x="749.0" y="1453.0" width="5.5" height="2.0"/><rect x="755.9" y="1429.6" width="5.5" height="25.4"/><rect x="762.4" y="1429.6" width="5.5" height="25.4"/><rect x="768.9" y="1429.6" width="5.5" height="25.4"/><rect x="775.4" y="1445.8" width="5.5" height="9.2"/><rect x="781.9" y="1450.8" width="5.5" height="4.2"/><rect x="788.4" y="1450.8" width="5.5" height="4.2"/><rect x="794.5" y="1435.0" width="5.5" height="20.0"/><rect x="801.0" y="1433.3" width="5.5" height="21.7"/><rect x="807.5" y="1431.7" width="5.5" height="23.3"/><rect x="814.0" y="1445.3" width="5.5" height="9.7"/><rect x="820.5" y="1450.0" width="5.5" height="5.0"/><rect x="827.0" y="1452.5" width="5.5" height="2.5"/><rect x="833.5" y="1450.8" width="5.5" height="4.2"/><rect x="840.0" y="1450.8" width="5.5" height="4.2"/><rect x="846.5" y="1453.0" width="5.5" height="2.0"/><rect x="853.0" y="1453.7" width="5.5" height="1.3"/><rect x="885.0" y="1441.0" width="5.5" height="14.0"/><rect x="891.5" y="1431.0" width="5.5" height="24.0"/><rect x="898.0" y="1434.5" width="5.5" height="20.5"/><rect x="904.5" y="1448.5" width="5.5" height="6.5"/><rect x="911.0" y="1448.5" width="5.5" height="6.5"/><rect x="917.5" y="1452.5" width="5.5" height="2.5"/><rect x="924.0" y="1451.0" width="5.5" height="4.0"/><rect x="930.5" y="1452.5" width="5.5" height="2.5"/><rect x="937.0" y="1453.0" width="5.5" height="2.0"/><rect x="943.5" y="1453.0" width="5.5" height="2.0"/><rect x="950.0" y="1453.5" width="5.5" height="1.5"/></g>
<path d="M569.3,1454.0 C570.1,1451.8 574.1,1441.2 576.0,1435.3 C577.9,1429.4 583.1,1409.5 585.3,1403.3 C587.5,1397.1 592.7,1385.3 594.7,1382.0 C596.7,1378.7 600.8,1376.9 602.7,1375.3 C604.6,1373.7 608.8,1370.7 610.7,1368.7 C612.6,1366.7 616.5,1360.8 618.7,1358.0 C620.9,1355.2 626.5,1347.0 629.3,1344.7 C632.1,1342.4 639.6,1339.2 642.7,1338.0 C645.8,1336.8 652.9,1335.4 656.0,1334.0 C659.1,1332.6 666.3,1327.4 669.3,1326.0 C672.3,1324.6 678.2,1322.7 681.3,1322.0 C684.4,1321.3 692.7,1320.6 696.0,1320.1 C699.3,1319.6 706.2,1318.1 709.3,1317.5 C712.4,1316.9 719.3,1315.2 722.7,1314.8 C726.1,1314.4 734.3,1314.2 738.7,1314.0 C743.1,1313.8 755.8,1313.5 760.0,1313.2 C764.2,1312.9 770.3,1311.4 775.0,1311.0 C779.7,1310.6 791.2,1310.2 800.0,1310.0 C808.8,1309.8 840.1,1309.1 850.0,1309.0 C859.9,1308.9 879.2,1309.5 885.0,1309.0 C890.8,1308.5 895.3,1305.6 900.0,1305.0 C904.7,1304.4 918.0,1303.8 925.0,1303.5 C932.0,1303.2 955.9,1302.6 960.0,1302.5" fill="none" stroke="#444" stroke-width="3" stroke-linecap="round" stroke-linejoin="round"/>
<line x1="548" y1="1274" x2="548" y2="1457" stroke="#555" stroke-width="3" />
<line x1="546.5" y1="1456" x2="1052" y2="1456" stroke="#555" stroke-width="3" />
<text x="464.0" y="1332.7" font-size="22" font-weight="normal" fill="#717171" text-anchor="start" textLength="82.0" lengthAdjust="spacingAndGlyphs" stroke="#717171" stroke-width="0.75">60,000-</text>
<text x="464.0" y="1378.0" font-size="22" font-weight="normal" fill="#717171" text-anchor="start" textLength="82.0" lengthAdjust="spacingAndGlyphs" stroke="#717171" stroke-width="0.75">40,000-</text>
<text x="464.0" y="1419.3" font-size="22" font-weight="normal" fill="#717171" text-anchor="start" textLength="82.0" lengthAdjust="spacingAndGlyphs" stroke="#717171" stroke-width="0.75">20,000-</text>
<text x="558.7" y="1264.8" font-size="17.5" font-weight="normal" fill="#1e1e1e" text-anchor="start" textLength="23.5" lengthAdjust="spacingAndGlyphs"  stroke="#1e1e1e" stroke-width="0.9">Q1</text>
<text x="600.0" y="1264.8" font-size="17.5" font-weight="normal" fill="#1e1e1e" text-anchor="start" textLength="23.5" lengthAdjust="spacingAndGlyphs"  stroke="#1e1e1e" stroke-width="0.9">Q2</text>
<text x="649.0" y="1264.8" font-size="17.5" font-weight="normal" fill="#1e1e1e" text-anchor="start" textLength="23.5" lengthAdjust="spacingAndGlyphs"  stroke="#1e1e1e" stroke-width="0.9">Q3</text>
<text x="690.0" y="1264.8" font-size="17.5" font-weight="normal" fill="#1e1e1e" text-anchor="start" textLength="23.5" lengthAdjust="spacingAndGlyphs"  stroke="#1e1e1e" stroke-width="0.9">Q4</text>
<text x="743.5" y="1264.8" font-size="17.5" font-weight="normal" fill="#1e1e1e" text-anchor="start" textLength="23.5" lengthAdjust="spacingAndGlyphs"  stroke="#1e1e1e" stroke-width="0.9">Q5</text>
<text x="781.0" y="1264.8" font-size="17.5" font-weight="normal" fill="#1e1e1e" text-anchor="start" textLength="23.5" lengthAdjust="spacingAndGlyphs"  stroke="#1e1e1e" stroke-width="0.9">Q6</text>
<text x="876.5" y="1264.8" font-size="17.5" font-weight="normal" fill="#1e1e1e" text-anchor="start" textLength="23.5" lengthAdjust="spacingAndGlyphs"  stroke="#1e1e1e" stroke-width="0.9">Q7</text>
<line x1="915" y1="1259" x2="940" y2="1259" stroke="#444" stroke-width="2.2" />
<path d="M937,1253.5 L948,1259 L937,1264.5 Z" fill="#444"/>
<text x="959.0" y="1265.0" font-size="18.5" font-weight="normal" fill="#222" text-anchor="start" textLength="75.0" lengthAdjust="spacingAndGlyphs"  stroke="#222" stroke-width="0.6">Ongoing</text>
<text x="960.0" y="1300.0" font-size="18.5" font-weight="normal" fill="#222" text-anchor="start" textLength="63.0" lengthAdjust="spacingAndGlyphs"  stroke="#222" stroke-width="0.6">Unique</text>
<text x="960.0" y="1323.0" font-size="18.5" font-weight="normal" fill="#222" text-anchor="start" textLength="110.0" lengthAdjust="spacingAndGlyphs"  stroke="#222" stroke-width="0.6">respondents</text>
<text x="931.0" y="1417.5" font-size="18.5" font-weight="normal" fill="#222" text-anchor="start" textLength="44.0" lengthAdjust="spacingAndGlyphs"  stroke="#222" stroke-width="0.6">Daily</text>
<text x="931.0" y="1439.0" font-size="18.5" font-weight="normal" fill="#222" text-anchor="start" textLength="110.0" lengthAdjust="spacingAndGlyphs"  stroke="#222" stroke-width="0.6">respondents</text>
<text x="584.0" y="1481.0" font-size="23.5" font-weight="bold" fill="#222" text-anchor="start" textLength="43.0" lengthAdjust="spacingAndGlyphs" >Apr</text>
<text x="780.0" y="1482.0" font-size="23.5" font-weight="bold" fill="#222" text-anchor="start" textLength="50.0" lengthAdjust="spacingAndGlyphs" >May</text>
<text x="975.0" y="1481.0" font-size="23.5" font-weight="bold" fill="#222" text-anchor="start" textLength="43.0" lengthAdjust="spacingAndGlyphs" >Jun</text>
</svg></body></html>
